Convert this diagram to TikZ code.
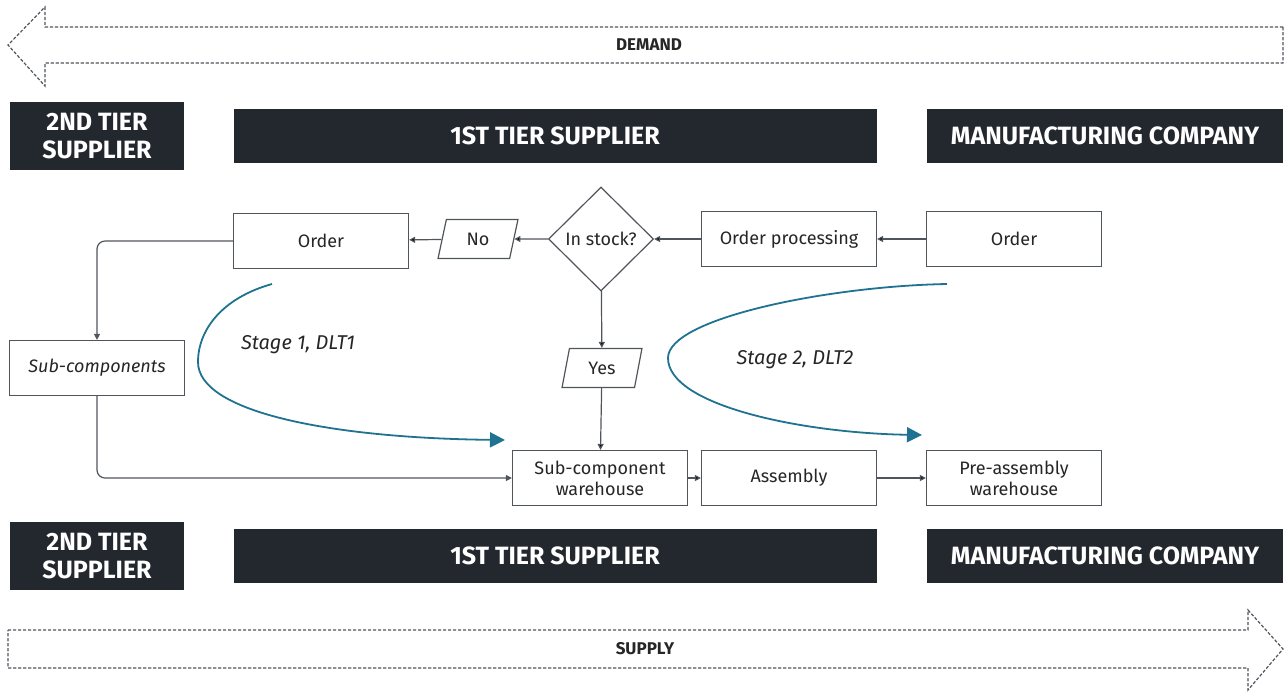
\documentclass[tikz,border=0pt]{standalone}
\usepackage{fontspec}
\setmainfont{Fira Sans}
\usepackage{tikz}
\usetikzlibrary{arrows.meta,shapes.geometric,positioning}
\definecolor{darkhead}{HTML}{23272E}
\definecolor{lineg}{HTML}{50555B}
\definecolor{teal}{HTML}{1F7391}

\begin{document}
\begin{tikzpicture}[x=0.5pt,y=-0.5pt,>={Triangle[length=3pt,width=3pt]},font=\fontsize{9}{10.5}\selectfont]
  \tikzstyle{head}=[fill=darkhead,text=white,font=\fontsize{12.5}{14}\selectfont\bfseries,minimum height=27pt,inner sep=0pt,align=center]
  \tikzstyle{box}=[draw=lineg,line width=0.6pt,fill=white,minimum width=87.5pt,minimum height=27.5pt,inner sep=1pt,align=center,text=black!85]
  \tikzstyle{answer}=[trapezium,trapezium left angle=78,trapezium right angle=102,draw=lineg,line width=0.6pt,minimum width=40pt,minimum height=19.5pt,inner sep=1pt,trapezium stretches=true,text=black!85]
  \tikzstyle{check}=[diamond,draw=lineg,line width=0.6pt,minimum width=52.5pt,minimum height=52pt,inner sep=0pt,text=black!85]
  \tikzstyle{flow}=[draw=lineg,line width=0.6pt,->]
  \tikzstyle{big}=[draw=lineg,line width=0.6pt,dash pattern=on 1.6pt off 0.9pt]
  \tikzstyle{stage}=[draw=teal,line width=0.9pt,-{Triangle[length=7.5pt,width=7.5pt]}]

  \useasboundingbox (0,0) rectangle (1286,693);

  % demand and supply arrows
  \draw[big] (1283,27) -- (45,27) -- (45,7) -- (8,45) -- (45,86) -- (45,63) -- (1283,63) -- cycle;
  \node[font=\fontsize{8.5}{10}\selectfont\bfseries,text=black!85] (demand) at (649,45) {DEMAND};
  \draw[big] (8,630) -- (1248,630) -- (1248,610) -- (1283,649) -- (1248,690) -- (1248,668) -- (8,668) -- cycle;
  \node[font=\fontsize{8.5}{10}\selectfont\bfseries,text=black!85] (supply) at (645,649) {SUPPLY};

  % company bands
  \node[head, minimum width=87pt, minimum height=34pt] (T2top) at (97,136)  {2ND TIER\\SUPPLIER};
  \node[head, minimum width=321.5pt]                   (T1top) at (555,136) {1ST TIER SUPPLIER};
  \node[head, minimum width=178pt]                     (MCtop) at (1105,136) {MANUFACTURING COMPANY};
  \node[head, minimum width=87pt, minimum height=34pt] (T2bot) at (97,556)  {2ND TIER\\SUPPLIER};
  \node[head, minimum width=321.5pt]                   (T1bot) at (555,556) {1ST TIER SUPPLIER};
  \node[head, minimum width=178pt]                     (MCbot) at (1105,556) {MANUFACTURING COMPANY};

  % flow
  \node[box]    (mcorder) at (1014,239) {Order};
  \node[box]    (proc)    at (789,239)  {Order processing};
  \node[check]  (stock)   at (601,239)  {In stock?};
  \node[answer] (no)      at (478,239)  {No};
  \node[box]    (t2order) at (321,241)  {Order};
  \node[box]    (subc)    at (97,368)   {\itshape Sub-components};
  \node[answer] (yes)     at (602,368)  {Yes};
  \node[box]    (scw)     at (600,478)  {Sub-component\\warehouse};
  \node[box]    (asm)     at (789,478)  {Assembly};
  \node[box]    (paw)     at (1014,478) {Pre-assembly\\warehouse};

  \path[flow] (mcorder) edge (proc)
              (proc)    edge (stock)
              (stock)   edge (no)
              (no)      edge (t2order)
              (stock)   edge (yes)
              (yes)     edge (scw)
              (scw)     edge (asm)
              (asm)     edge (paw);
  \draw[flow, rounded corners=4pt] (t2order.west) -| (subc.north);
  \draw[flow, rounded corners=4pt] (subc.south) |- (scw.west);

  % lead time stages
  \coordinate (s1start) at (272,284);
  \coordinate (s1end)   at (505,440);
  \coordinate (s2start) at (947,284);
  \coordinate (s2end)   at (922,435);
  \draw[stage] (s1start) .. controls (222,298) and (198,330) .. (198,362)
               .. controls (198,412) and (330,438) .. (s1end);
  \draw[stage] (s2start) .. controls (830,286) and (668,318) .. (668,358)
               .. controls (668,405) and (800,433) .. (s2end);
  \node[font=\fontsize{10}{11}\selectfont\itshape,text=black!85] (stage1) at (298,345) {Stage 1, DLT1};
  \node[font=\fontsize{10}{11}\selectfont\itshape,text=black!85] (stage2) at (795,360) {Stage 2, DLT2};
\end{tikzpicture}
\end{document}
